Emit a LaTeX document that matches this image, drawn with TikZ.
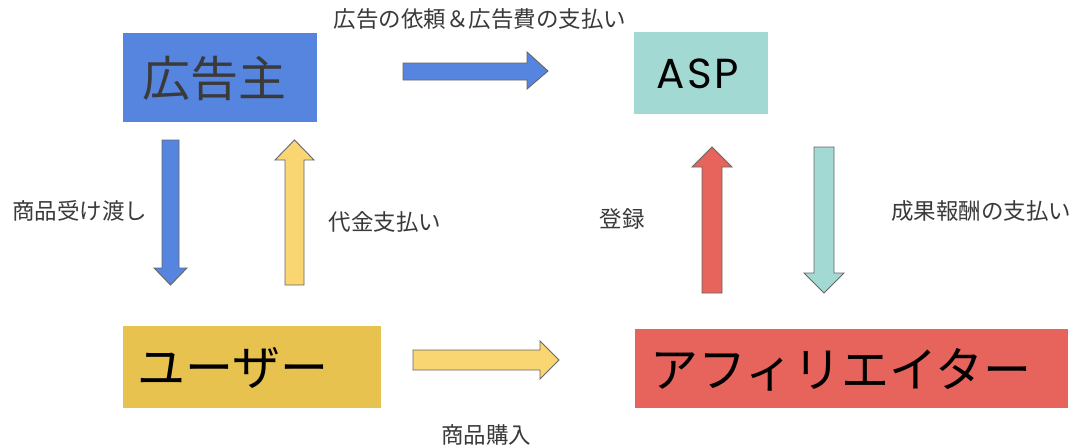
\documentclass[tikz,border=0pt]{standalone}
\usepackage{fontspec}
\setmainfont{Noto Sans CJK JP}
\newfontfamily\aspfont[LetterSpace=6]{Poppins}
\definecolor{cblue}{HTML}{5585DE}
\definecolor{cteal}{HTML}{A3D9D3}
\definecolor{cyellowbox}{HTML}{E8C24F}
\definecolor{cyellow}{HTML}{F9D672}
\definecolor{cred}{HTML}{E6645C}
\definecolor{cedge}{HTML}{666666}
\definecolor{ctext}{HTML}{3A3A3A}
\tikzset{
  box/.style={inner sep=0pt, outer sep=0pt},
  blockarrow/.style={draw=cedge, line width=0.9pt, line join=miter},
  boxtext/.style={font=\fontsize{48}{50}\selectfont, text=black},
  lbl/.style={font=\fontsize{22.5}{24}\selectfont, text=ctext}
}
\begin{document}
\begin{tikzpicture}[x=1pt,y=-1pt]
\useasboundingbox (0,0) rectangle (1081,447);
\fill[white] (0,0) rectangle (1081,447);
% boxes
\fill[cblue] (123,33) rectangle (317,122);
\node[boxtext, text=ctext] (adv) at (214,78) {広告主};
\fill[cteal] (634,32) rectangle (768,114);
\node[font=\aspfont\fontsize{42}{44}\selectfont] (asp) at (698,74) {ASP};
\fill[cyellowbox] (123,326) rectangle (381,408);
\node[boxtext, anchor=west] (user) at (134,368) {ユーザー};
\fill[cred] (635,329) rectangle (1068,408);
\node[boxtext, anchor=west] (aff) at (647,370) {アフィリエイター};
% arrows
% blue right
\draw[blockarrow, fill=cblue] (403,63) -- (527,63) -- (527,52) -- (548,71) -- (527,89) -- (527,80) -- (403,80) -- cycle;
% blue down
\draw[blockarrow, fill=cblue] (162,140) -- (179,140) -- (179,268) -- (187,268) -- (170.5,285) -- (154,268) -- (162,268) -- cycle;
% yellow up
\draw[blockarrow, fill=cyellow] (285,285) -- (285,160) -- (275,160) -- (294.5,140) -- (314,160) -- (304,160) -- (304,285) -- cycle;
% red up
\draw[blockarrow, fill=cred] (702,293) -- (702,167) -- (692,167) -- (712,147) -- (732,167) -- (722,167) -- (722,293) -- cycle;
% teal down
\draw[blockarrow, fill=cteal] (814,147) -- (834,147) -- (834,273) -- (844,273) -- (824,293) -- (804,273) -- (814,273) -- cycle;
% yellow right
\draw[blockarrow, fill=cyellow] (413,350) -- (540,350) -- (540,341) -- (559,360) -- (540,379) -- (540,370) -- (413,370) -- cycle;
% labels
\node[lbl] (l1) at (480,19) {広告の依頼＆広告費の支払い};
\node[lbl] (l2) at (80,211) {商品受け渡し};
\node[lbl] (l3) at (385,222) {代金支払い};
\node[lbl] (l4) at (622,219) {登録};
\node[lbl] (l5) at (981,211) {成果報酬の支払い};
\node[lbl] (l6) at (486,435) {商品購入};
\end{tikzpicture}
\end{document}
